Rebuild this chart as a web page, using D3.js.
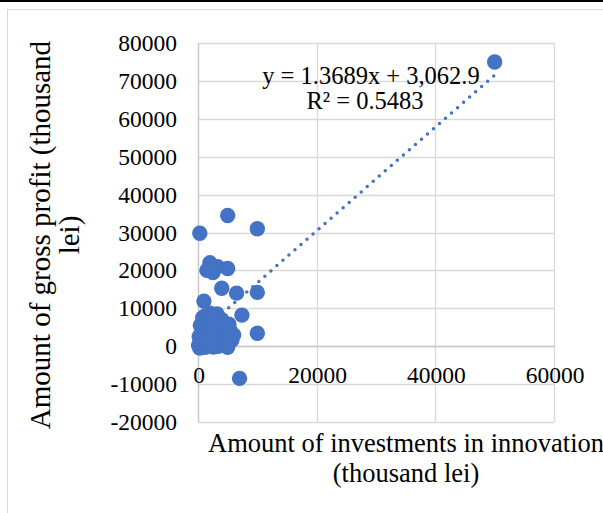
<!DOCTYPE html>
<html>
  <head>
    <style>
      html,
      body { margin: 0; background: #fff; }
      svg { display: block; }
      text { font-family: "Liberation Serif", "Times New Roman", serif; fill: #000; }
    </style>
    <script src="https://d3js.org/d3.v7.js"></script>
  </head>
  <body>
    <svg class="chart"></svg>

    <script>
      const width = 603;
      const height = 513;

      // investments in innovation (thousand lei)
      const investments = [
        100, 300, 500, 200, 800, 1200, 600, 1500, 1000, 2000,
        2500, 1800, 3000, 3500, 2200, 1500, 800, 2800, 3200, 2000,
        1200, 4000, 4500, 5400, 4000, 5700, 5000, 3400, 4300, 2600,
        6000, 3000, 400, 2400, 3800, 1000, 200, 700, 5200,
        7000, 10000, 7400, 10000, 6500, 4000, 1000, 2000, 3300, 5000,
        1500, 2500, 300, 5000, 10000, 50000
      ];
      // gross profit (thousand lei)
      const profits = [
        200, -500, 1000, 2500, 300, -300, 3500, 1500, 4500, 500,
        2000, 3000, 1000, 3000, 5000, 6500, 7500, 6000, 8500, 8700,
        8000, 7000, 4500, 4200, 2500, 1600, -300, 0, 800, -200,
        3000, 4000, 5500, 7500, 5500, 1000, 400, 1800, 5800,
        -8500, 3400, 8200, 14200, 14000, 15300, 11900, 22000, 21000, 20500,
        20000, 19400, 29800, 34500, 31000, 75000
      ];

      const xTicks = [0, 20000, 40000, 60000];
      const yTicks = [-20000, -10000, 0, 10000, 20000, 30000, 40000, 50000, 60000, 70000, 80000];

      // linear trendline reported by the chart
      const slope = 1.3689;
      const intercept = 3062.9;
      const equationLines = ['y = 1.3689x + 3,062.9', 'R\u00b2 = 0.5483'];

      const xTitle = ['Amount of investments in innovation', '(thousand lei)'];
      const yTitle = ['Amount of gross profit (thousand', 'lei)'];

      const points = investments.map((x, i) => ({ x, y: profits[i] }));

      const svg = d3.select('svg')
        .attr('width', width)
        .attr('height', height);

      const x = d3.scaleLinear().domain([0, 60000]).range([198, 554]);
      const y = d3.scaleLinear().domain([-20000, 80000]).range([422, 43]);

      // page rule and chart border
      svg.append('rect')
        .attr('x', 0).attr('y', 0)
        .attr('width', width).attr('height', 2)
        .style('fill', '#000');

      svg.append('rect')
        .attr('x', 7.5).attr('y', 9.5)
        .attr('width', 700).attr('height', 600)
        .style('fill', 'none')
        .style('stroke', '#d9d9d9');

      // gridlines
      svg.append('g')
        .selectAll('line')
        .data(yTicks)
        .join('line')
        .attr('x1', x(0)).attr('x2', x(60000))
        .attr('y1', (d) => Math.round(y(d)) + 0.5)
        .attr('y2', (d) => Math.round(y(d)) + 0.5)
        .style('stroke', '#d9d9d9')
        .style('stroke-width', 1.3);

      svg.append('g')
        .selectAll('line')
        .data(xTicks)
        .join('line')
        .attr('x1', (d) => Math.round(x(d)) + 0.5)
        .attr('x2', (d) => Math.round(x(d)) + 0.5)
        .attr('y1', y(80000)).attr('y2', y(-20000))
        .style('stroke', '#d9d9d9')
        .style('stroke-width', 1.3);

      // axis lines
      svg.append('line')
        .attr('x1', x(0)).attr('x2', x(60000))
        .attr('y1', Math.round(y(0)) + 0.5).attr('y2', Math.round(y(0)) + 0.5)
        .style('stroke', '#c8c8c8')
        .style('stroke-width', 1.3);
      svg.append('line')
        .attr('x1', Math.round(x(0)) + 0.5).attr('x2', Math.round(x(0)) + 0.5)
        .attr('y1', y(80000)).attr('y2', y(-20000))
        .style('stroke', '#c8c8c8')
        .style('stroke-width', 1.3);

      // tick labels
      svg.append('g')
        .selectAll('text')
        .data(yTicks)
        .join('text')
        .attr('x', 177)
        .attr('y', (d) => y(d) + 8)
        .attr('text-anchor', 'end')
        .style('font-size', '23.5px')
        .text((d) => d);

      svg.append('g')
        .selectAll('text')
        .data(xTicks)
        .join('text')
        .attr('x', (d) => x(d) + 1)
        .attr('y', 383)
        .attr('text-anchor', 'middle')
        .style('font-size', '23.5px')
        .text((d) => d);

      // markers
      svg.append('g')
        .selectAll('circle')
        .data(points)
        .join('circle')
        .attr('cx', (d) => x(d.x))
        .attr('cy', (d) => y(d.y))
        .attr('r', 7.7)
        .style('fill', '#4472c4');

      // trendline over the data range
      const [x0, x1] = d3.extent(investments);
      svg.append('line')
        .attr('x1', x(x0)).attr('y1', y(slope * x0 + intercept))
        .attr('x2', x(x1)).attr('y2', y(slope * x1 + intercept))
        .style('stroke', '#4472c4')
        .style('stroke-width', 3.5)
        .style('stroke-linecap', 'round')
        .style('stroke-dasharray', '0 8');

      // equation label
      svg.append('text')
        .attr('text-anchor', 'middle')
        .style('font-size', '24.5px')
        .selectAll('tspan')
        .data(equationLines)
        .join('tspan')
        .attr('x', (d, i) => (i === 0 ? 371 : 365))
        .attr('y', (d, i) => 84 + i * 25)
        .text((d) => d);

      // axis titles
      svg.append('text')
        .attr('text-anchor', 'middle')
        .style('font-size', '26.5px')
        .selectAll('tspan')
        .data(xTitle)
        .join('tspan')
        .attr('x', 406)
        .attr('y', (d, i) => 452 + i * 30)
        .text((d) => d);

      svg.append('text')
        .attr('text-anchor', 'middle')
        .attr('transform', 'translate(0,235) rotate(-90)')
        .style('font-size', '29px')
        .selectAll('tspan')
        .data(yTitle)
        .join('tspan')
        .attr('x', 0)
        .attr('y', (d, i) => 50 + i * 29)
        .text((d) => d);
    </script>
  </body>
</html>
